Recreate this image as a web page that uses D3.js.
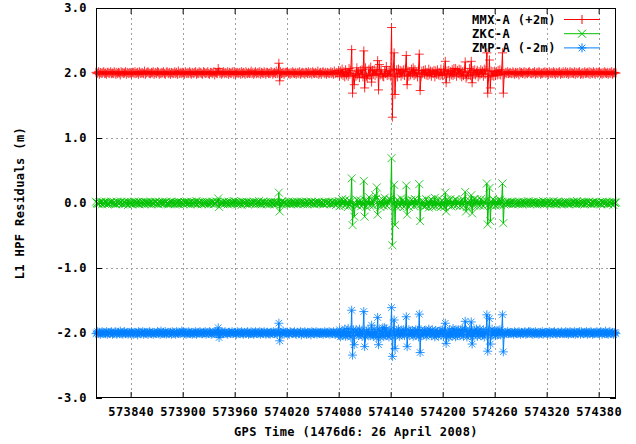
<!DOCTYPE html>
<html><head><meta charset="utf-8">
<script src="https://cdn.jsdelivr.net/npm/d3@7/dist/d3.min.js"></script>
<style>body{margin:0;background:#fff}svg{display:block}</style>
</head><body><svg id="c" width="636" height="444"></svg>
<script>
// ---------- data ----------
const xDomain = [573800, 574400];
const yDomain = [-3, 3];
const xTicks = [573840, 573900, 573960, 574020, 574080, 574140, 574200, 574260, 574320, 574380];
const yTicks = [-3, -2, -1, 0, 1, 2, 3];
const seriesNames = ["MMX-A (+2m)", "ZKC-A", "ZMP-A (-2m)"];
const seriesOffsets = [2, 0, -2];
const sampleStart = 573800, sampleStep = 1; // 1 Hz residuals
const xTitle = "GPS Time (1476d6: 26 April 2008)";
const yTitle = "L1 HPF Residuals (m)";

// residuals, in cm, one per second
const mmxNoise = [
 1,-1,0,2,-2,1,0,-1,1,2,-1,0,-2,1,1,-1,0,2,-1,0,
 -1,2,0,-2,1,-1,1,0,-3,2,0,1,-1,0,2,-2,1,0,-1,1,
 0,-2,1,1,-1,2,-1,0,1,-2,2,0,-1,1,0,-1,3,-2,0,1,
 2,0,-1,-1,1,0,2,-2,0,1,-1,2,1,-2,0,-1,1,0,2,-1,
 -2,1,2,0,-1,1,-2,1,0,-1,0,2,-1,1,-2,3,-1,0,1,-1,
 1,0,-2,2,0,-1,1,-1,2,0,-2,1,0,-1,1,2,-2,0,-1,2,
 0,1,-1,-2,2,1,-1,0,0,2,-1,-2,1,1,-1,0,2,-3,1,0,
 -1,0,2,-1,1,-2,0,2,-1,1,0,-1,2,-2,1,0,-1,1,2,-2,
 2,-2,0,1,-1,0,1,-2,2,-1,1,0,-2,2,0,-1,1,-1,0,3,
 -1,1,-2,0,2,-1,0,1,-1,2,-2,1,0,-1,2,0,-2,1,1,-1,
 0,-1,2,1,-2,0,1,-1,3,-1,0,-2,1,2,-1,0,1,-2,0,1,
 1,2,-1,0,-2,1,-1,2,0,-1,1,-2,0,1,-1,2,-2,0,1,0,
 0,-2,1,1,-1,2,-1,0,1,-2,2,0,-1,1,0,-1,3,-2,0,1,
 -2,1,2,0,-1,1,-2,1,0,-1,0,2,-1,1,-2,3,-1,0,1,-1,
 4,-5,3,-2,6,-4,2,-6,5,-3,1,-5,7,-2,4,-6,3,-4,5,-1,
 -5,6,-3,2,-7,4,-2,5,-6,3,-4,8,-5,2,-3,6,-4,1,-6,4,
 -2,5,-4,3,-1,4,-5,2,-3,5,-2,4,-6,3,-1,5,-4,2,-3,4,
 -5,3,-2,6,-4,1,-3,5,-6,2,-1,4,-5,3,-2,5,-4,6,-3,2,
 3,-5,2,-3,6,-1,3,-4,5,-2,1,-6,4,-3,2,-5,3,-1,4,-2,
 5,-3,1,-4,6,-2,3,-5,2,-1,4,-6,3,-2,5,-3,1,-4,6,-2,
 -4,5,-2,6,-5,3,-1,4,-6,2,-3,5,-4,7,-2,3,-5,4,-1,6,
 -3,5,-6,2,-4,3,-2,6,-5,1,-3,7,-4,2,-6,4,-2,5,-3,1,
 4,-6,2,-3,5,-1,3,-5,6,-2,4,-3,1,-6,5,-2,3,-4,2,-5,
 3,-4,2,-3,4,-2,5,-3,2,-1,1,-2,0,1,-1,2,-1,0,1,-1,
 -1,2,0,-2,1,-1,1,0,-3,2,0,1,-1,0,2,-2,1,0,-1,1,
 2,0,-1,-1,1,0,2,-2,0,1,-1,2,1,-2,0,-1,1,0,2,-1,
 1,0,-2,2,0,-1,1,-1,2,0,-2,1,0,-1,1,2,-2,0,-1,2,
 -1,0,2,-1,1,-2,0,2,-1,1,0,-1,2,-2,1,0,-1,1,2,-2,
 -1,1,-2,0,2,-1,0,1,-1,2,-2,1,0,-1,2,0,-2,1,1,-1,
 1,2,-1,0,-2,1,-1,2,0,-1,1,-2,0,1,-1,2,-2,0,1,0,
 0];
const zkcNoise = [
 2,0,-1,-1,1,0,2,-2,0,1,-1,2,1,-2,0,-1,1,0,2,-1,
 0,1,-1,-2,2,1,-1,0,0,2,-1,-2,1,1,-1,0,2,-3,1,0,
 -1,1,-2,0,2,-1,0,1,-1,2,-2,1,0,-1,2,0,-2,1,1,-1,
 1,-1,0,2,-2,1,0,-1,1,2,-1,0,-2,1,1,-1,0,2,-1,0,
 1,2,-1,0,-2,1,-1,2,0,-1,1,-2,0,1,-1,2,-2,0,1,0,
 0,-2,1,1,-1,2,-1,0,1,-2,2,0,-1,1,0,-1,3,-2,0,1,
 1,0,-2,2,0,-1,1,-1,2,0,-2,1,0,-1,1,2,-2,0,-1,2,
 2,-2,0,1,-1,0,1,-2,2,-1,1,0,-2,2,0,-1,1,-1,0,3,
 -1,2,0,-2,1,-1,1,0,-3,2,0,1,-1,0,2,-2,1,0,-1,1,
 0,-1,2,1,-2,0,1,-1,3,-1,0,-2,1,2,-1,0,1,-2,0,1,
 -2,1,2,0,-1,1,-2,1,0,-1,0,2,-1,1,-2,3,-1,0,1,-1,
 -1,0,2,-1,1,-2,0,2,-1,1,0,-1,2,-2,1,0,-1,1,2,-2,
 1,-1,0,2,-2,1,0,-1,1,2,-1,0,-2,1,1,-1,0,2,-1,0,
 0,1,-1,-2,2,1,-1,0,0,2,-1,-2,1,1,-1,0,2,-3,1,0,
 3,-5,2,-3,6,-1,3,-4,5,-2,1,-6,4,-3,2,-5,3,-1,4,-2,
 -2,5,-4,3,-1,4,-5,2,-3,5,-2,4,-6,3,-1,5,-4,2,-3,4,
 -4,5,-2,6,-5,3,-1,4,-6,2,-3,5,-4,7,-2,3,-5,4,-1,6,
 4,-5,3,-2,6,-4,2,-6,5,-3,1,-5,7,-2,4,-6,3,-4,5,-1,
 4,-6,2,-3,5,-1,3,-5,6,-2,4,-3,1,-6,5,-2,3,-4,2,-5,
 -5,6,-3,2,-7,4,-2,5,-6,3,-4,8,-5,2,-3,6,-4,1,-6,4,
 -4,2,-6,3,-1,5,-3,4,-2,6,-5,1,-3,4,-2,5,-4,3,-1,2,
 -5,3,-2,6,-4,1,-3,5,-6,2,-1,4,-5,3,-2,5,-4,6,-3,2,
 5,-3,1,-4,6,-2,3,-5,2,-1,4,-6,3,-2,5,-3,1,-4,6,-2,
 3,-4,2,-3,4,-2,5,-3,2,-1,1,-2,0,1,-1,2,-1,0,1,-1,
 2,-2,0,1,-1,0,1,-2,2,-1,1,0,-2,2,0,-1,1,-1,0,3,
 0,-2,1,1,-1,2,-1,0,1,-2,2,0,-1,1,0,-1,3,-2,0,1,
 0,-1,2,1,-2,0,1,-1,3,-1,0,-2,1,2,-1,0,1,-2,0,1,
 -2,1,2,0,-1,1,-2,1,0,-1,0,2,-1,1,-2,3,-1,0,1,-1,
 1,-1,0,2,-2,1,0,-1,1,2,-1,0,-2,1,1,-1,0,2,-1,0,
 0,1,-1,-2,2,1,-1,0,0,2,-1,-2,1,1,-1,0,2,-3,1,0,
 1];
const zmpNoise = [
 -1,0,2,-1,1,-2,0,2,-1,1,0,-1,2,-2,1,0,-1,1,2,-2,
 0,-1,2,1,-2,0,1,-1,3,-1,0,-2,1,2,-1,0,1,-2,0,1,
 -1,2,0,-2,1,-1,1,0,-3,2,0,1,-1,0,2,-2,1,0,-1,1,
 -2,1,2,0,-1,1,-2,1,0,-1,0,2,-1,1,-2,3,-1,0,1,-1,
 2,-2,0,1,-1,0,1,-2,2,-1,1,0,-2,2,0,-1,1,-1,0,3,
 1,2,-1,0,-2,1,-1,2,0,-1,1,-2,0,1,-1,2,-2,0,1,0,
 2,0,-1,-1,1,0,2,-2,0,1,-1,2,1,-2,0,-1,1,0,2,-1,
 1,-1,0,2,-2,1,0,-1,1,2,-1,0,-2,1,1,-1,0,2,-1,0,
 1,0,-2,2,0,-1,1,-1,2,0,-2,1,0,-1,1,2,-2,0,-1,2,
 -1,1,-2,0,2,-1,0,1,-1,2,-2,1,0,-1,2,0,-2,1,1,-1,
 0,-2,1,1,-1,2,-1,0,1,-2,2,0,-1,1,0,-1,3,-2,0,1,
 0,1,-1,-2,2,1,-1,0,0,2,-1,-2,1,1,-1,0,2,-3,1,0,
 -1,2,0,-2,1,-1,1,0,-3,2,0,1,-1,0,2,-2,1,0,-1,1,
 -1,1,-2,0,2,-1,0,1,-1,2,-2,1,0,-1,2,0,-2,1,1,-1,
 -3,5,-6,2,-4,3,-2,6,-5,1,-3,7,-4,2,-6,4,-2,5,-3,1,
 5,-3,1,-4,6,-2,3,-5,2,-1,4,-6,3,-2,5,-3,1,-4,6,-2,
 -5,6,-3,2,-7,4,-2,5,-6,3,-4,8,-5,2,-3,6,-4,1,-6,4,
 -4,2,-6,3,-1,5,-3,4,-2,6,-5,1,-3,4,-2,5,-4,3,-1,2,
 -2,5,-4,3,-1,4,-5,2,-3,5,-2,4,-6,3,-1,5,-4,2,-3,4,
 3,-5,2,-3,6,-1,3,-4,5,-2,1,-6,4,-3,2,-5,3,-1,4,-2,
 4,-5,3,-2,6,-4,2,-6,5,-3,1,-5,7,-2,4,-6,3,-4,5,-1,
 -4,5,-2,6,-5,3,-1,4,-6,2,-3,5,-4,7,-2,3,-5,4,-1,6,
 -5,3,-2,6,-4,1,-3,5,-6,2,-1,4,-5,3,-2,5,-4,6,-3,2,
 3,-4,2,-3,4,-2,5,-3,2,-1,1,-2,0,1,-1,2,-1,0,1,-1,
 1,0,-2,2,0,-1,1,-1,2,0,-2,1,0,-1,1,2,-2,0,-1,2,
 1,2,-1,0,-2,1,-1,2,0,-1,1,-2,0,1,-1,2,-2,0,1,0,
 1,-1,0,2,-2,1,0,-1,1,2,-1,0,-2,1,1,-1,0,2,-1,0,
 -1,0,2,-1,1,-2,0,2,-1,1,0,-1,2,-2,1,0,-1,1,2,-2,
 2,0,-1,-1,1,0,2,-2,0,1,-1,2,1,-2,0,-1,1,0,2,-1,
 0,-1,2,1,-2,0,1,-1,3,-1,0,-2,1,2,-1,0,1,-2,0,1,
 -1];

// outliers [GPS time, plotted value in m] (replace the residual at that second)
const mmxSpikes = [[573941,2.07],[574011,2.15],[574012,1.88],
 [574095,2.36],[574096,1.69],[574098,1.82],[574101,2.08],
 [574109,2.34],[574110,1.77],[574113,1.92],[574117,2.09],[574118,1.86],
 [574125,2.19],[574126,1.74],[574127,2.13],[574131,1.95],[574135,2.10],
 [574141,2.70],[574142,1.32],[574144,2.31],[574145,1.67],[574149,2.06],
 [574158,2.27],[574159,1.82],[574166,2.08],[574173,2.29],[574174,1.73],
 [574203,2.18],[574204,1.85],[574215,2.07],
 [574226,2.17],[574227,1.92],[574233,2.18],[574234,1.85],
 [574251,2.31],[574252,1.69],[574254,2.20],[574255,1.77],
 [574269,2.31],[574270,1.69]];
const zkcSpikes = [[573941,0.07],[573942,-0.06],[574011,0.16],[574012,-0.13],
 [574095,0.38],[574096,-0.34],[574098,-0.21],
 [574109,0.34],[574110,-0.21],[574115,0.09],
 [574122,0.12],[574124,0.24],[574125,-0.18],[574133,0.08],
 [574141,0.69],[574142,-0.65],[574144,0.28],[574145,-0.34],
 [574158,0.27],[574159,-0.18],[574173,0.29],[574174,-0.28],
 [574203,0.16],[574204,-0.13],
 [574226,0.17],[574227,-0.13],[574233,0.12],[574234,-0.16],
 [574251,0.30],[574252,-0.33],[574254,0.23],[574255,-0.28],
 [574269,0.30],[574270,-0.31]];
const zmpSpikes = [[573941,-1.92],[573942,-2.07],[574011,-1.85],[574012,-2.12],
 [574095,-1.65],[574096,-2.34],[574098,-2.18],
 [574109,-1.67],[574110,-2.21],[574118,-1.88],
 [574125,-1.76],[574126,-2.18],[574133,-1.92],
 [574141,-1.61],[574142,-2.36],[574144,-1.80],[574145,-2.24],
 [574158,-1.75],[574159,-2.21],[574173,-1.71],[574174,-2.30],
 [574203,-1.85],[574204,-2.16],
 [574226,-1.82],[574233,-1.83],[574234,-2.17],
 [574251,-1.72],[574252,-2.28],[574254,-1.78],[574255,-2.17],
 [574269,-1.72],[574270,-2.29]];

const colors = ["#ff0000", "#00c000", "#0080ff"];
const symbols = [
  "M-4.5,0H4.5M0,-4.5V4.5",
  "M-4,-4L4,4M-4,4L4,-4",
  "M-4.5,0H4.5M0,-4.5V4.5M-3.3,-3.3L3.3,3.3M-3.3,3.3L3.3,-3.3"
];

// ---------- layout ----------
const L = 96, R = 616, T = 8, B = 398;
const FONT = "'DejaVu Sans Mono', monospace";
const FS = 12, LS = 0.4;
const svg = d3.select("#c");
const x = d3.scaleLinear().domain(xDomain).range([L, R]);
const y = d3.scaleLinear().domain(yDomain).range([B, T]);

svg.append("defs").append("clipPath").attr("id", "clip")
  .append("rect").attr("x", L).attr("y", T).attr("width", R - L).attr("height", B - T);

// grid
const grid = svg.append("g").attr("stroke", "#a0a0a0").attr("stroke-dasharray", "2,3").attr("stroke-width", 1);
grid.selectAll(".gx").data(xTicks).join("line")
  .attr("x1", d => Math.round(x(d)) + 0.5).attr("x2", d => Math.round(x(d)) + 0.5)
  .attr("y1", T).attr("y2", B);
grid.selectAll(".gy").data(yTicks.filter(d => d > yDomain[0] && d < yDomain[1])).join("line")
  .attr("y1", d => Math.round(y(d)) + 0.5).attr("y2", d => Math.round(y(d)) + 0.5)
  .attr("x1", L).attr("x2", R);

// axes
const fmt = d => d.toFixed(1);
function styleAxis(g) {
  g.select(".domain").remove();
  g.selectAll(".tick line").attr("stroke", "#000");
  g.selectAll("text").attr("fill", "#000").attr("font-family", FONT)
    .attr("font-weight", "bold").attr("font-size", FS).attr("letter-spacing", LS);
}
svg.append("g").attr("transform", `translate(0,${B})`)
  .call(d3.axisBottom(x).tickValues(xTicks).tickFormat(d3.format("d")).tickSize(-6).tickPadding(9))
  .call(styleAxis);
svg.append("g").attr("transform", `translate(0,${T})`)
  .call(d3.axisTop(x).tickValues(xTicks).tickFormat("").tickSize(-6)).call(styleAxis);
svg.append("g").attr("transform", `translate(${L},0)`)
  .call(d3.axisLeft(y).tickValues(yTicks).tickFormat(fmt).tickSize(-6).tickPadding(9))
  .call(styleAxis);
svg.append("g").attr("transform", `translate(${R},0)`)
  .call(d3.axisRight(y).tickValues(yTicks).tickFormat("").tickSize(-6)).call(styleAxis);

// series
const noises = [mmxNoise, zkcNoise, zmpNoise];
const spikes = [mmxSpikes, zkcSpikes, zmpSpikes];
const seriesData = noises.map((n, k) => {
  const over = new Map(spikes[k]);
  return n.map((v, i) => {
    const t = sampleStart + i * sampleStep;
    return [t, over.has(t) ? over.get(t) : seriesOffsets[k] + v / 100];
  });
});

const line = d3.line().x(d => x(d[0])).y(d => y(d[1]));
seriesData.forEach((data, k) => {
  const g = svg.append("g");
  g.append("path").datum(data).attr("d", line).attr("fill", "none").attr("clip-path", "url(#clip)")
    .attr("stroke", colors[k]).attr("stroke-width", 1);
  g.selectAll("path.m").data(data).join("path").attr("class", "m")
    .attr("d", symbols[k]).attr("transform", d => `translate(${x(d[0])},${y(d[1])})`)
    .attr("fill", "none").attr("stroke", colors[k]).attr("stroke-width", 1).attr("stroke-opacity", 0.8);
});

// border
svg.append("rect").attr("x", L + 0.5).attr("y", T + 0.5).attr("width", R - L - 1).attr("height", B - T - 1)
  .attr("fill", "none").attr("stroke", "#000").attr("stroke-width", 1);

// legend
const leg = svg.append("g");
const legY = [19.5, 33.7, 47.9];
seriesNames.forEach((name, k) => {
  leg.append("text").attr("x", 472).attr("y", legY[k]).attr("dy", "0.35em")
    .attr("font-family", FONT).attr("font-weight", "bold").attr("font-size", FS)
    .attr("letter-spacing", LS).attr("fill", "#000").text(name);
  leg.append("line").attr("x1", 564).attr("x2", 600).attr("y1", legY[k]).attr("y2", legY[k])
    .attr("stroke", colors[k]);
  leg.append("path").attr("d", symbols[k]).attr("transform", `translate(582,${legY[k]})`)
    .attr("fill", "none").attr("stroke", colors[k]);
});

// titles
svg.append("text").attr("x", (L + R) / 2).attr("y", 432).attr("dy", "0.35em")
  .attr("text-anchor", "middle").attr("font-family", FONT).attr("font-weight", "bold")
  .attr("font-size", FS).attr("letter-spacing", LS).text(xTitle);
svg.append("text").attr("transform", `translate(20,${(T + B) / 2}) rotate(-90)`)
  .attr("dy", "0.35em").attr("text-anchor", "middle").attr("font-family", FONT)
  .attr("font-weight", "bold").attr("font-size", FS).attr("letter-spacing", LS).text(yTitle);
</script></body></html>
